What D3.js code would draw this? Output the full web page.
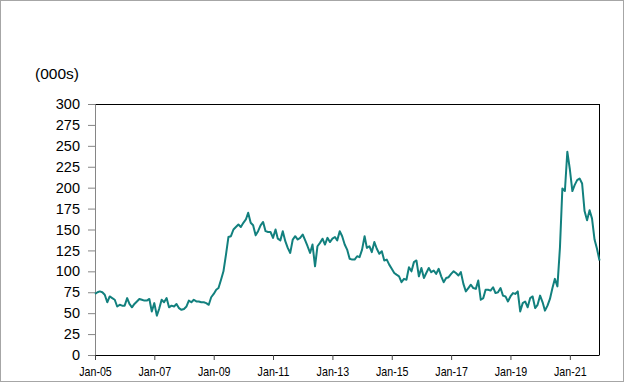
<!DOCTYPE html>
<html>
<head>
<meta charset="utf-8">
<script src="https://cdn.jsdelivr.net/npm/d3@7"></script>
<style>
  html, body { margin: 0; padding: 0; background: #fff; }
  svg { display: block; font-family: "Liberation Sans", Arial, sans-serif; }
</style>
</head>
<body>
<svg id="chart" width="624" height="382"></svg>
<script>
// Monthly values (thousands), Jan 2005 .. Jan 2022
const startMonth = "2005-01";
const values2005 = [73, 75, 76, 75, 72, 63, 70, 68, 66, 58, 60, 59];
const values2006 = [59, 68, 61, 57, 61, 64, 67, 66, 65, 65, 67, 52];
const values2007 = [62, 47, 55, 66, 63, 68, 57, 59, 58, 61, 56, 54];
const values2008 = [55, 58, 65, 63, 66, 64, 64, 63, 63, 62, 60, 69];
const values2009 = [73, 78, 80, 90, 100, 120, 141, 142, 150, 153, 156, 153];
const values2010 = [158, 162, 170, 158, 155, 143, 148, 155, 159, 148, 147, 147];
const values2011 = [140, 150, 139, 137, 148, 136, 128, 122, 138, 142, 138, 140];
const values2012 = [144, 137, 130, 122, 132, 106, 130, 134, 139, 132, 140, 135];
const values2013 = [139, 141, 137, 148, 142, 132, 126, 115, 114, 114, 118, 117];
const values2014 = [126, 142, 128, 130, 123, 135, 127, 121, 124, 113, 114, 108];
const values2015 = [103, 98, 96, 94, 87, 91, 90, 105, 100, 111, 113, 94];
const values2016 = [104, 92, 98, 104, 99, 101, 97, 103, 94, 87, 92, 93];
const values2017 = [97, 100, 98, 95, 99, 85, 76, 80, 84, 80, 79, 89];
const values2018 = [66, 68, 78, 78, 77, 81, 74, 75, 80, 71, 70, 64];
const values2019 = [70, 74, 73, 76, 52, 62, 64, 57, 68, 70, 56, 60];
const values2020 = [71, 63, 53, 59, 67, 80, 91, 82, 128, 199, 196, 243];
const values2021 = [222, 196, 203, 209, 211, 205, 172, 161, 173, 163, 138, 127];
const values2022 = [113];

const yTicks = [0, 25, 50, 75, 100, 125, 150, 175, 200, 225, 250, 275, 300];
const xTickYears = [2005, 2007, 2009, 2011, 2013, 2015, 2017, 2019, 2021];
const unitLabel = "(000s)";

const allValues = [].concat(values2005, values2006, values2007, values2008, values2009,
  values2010, values2011, values2012, values2013, values2014, values2015, values2016,
  values2017, values2018, values2019, values2020, values2021, values2022);
const data = allValues.map((v, i) => ({ date: new Date(2005, i, 1), value: v }));

const svg = d3.select("#chart");
const W = 624, H = 382;
const L = 95, R = 599.5, T = 104, B = 355;

// outer frame
svg.append("rect").attr("x", 0.5).attr("y", 0.5).attr("width", W - 1).attr("height", H - 1)
  .attr("fill", "#fff").attr("stroke", "#a6a6a6").attr("stroke-width", 1);

const x = d3.scaleTime().domain([new Date(2005, 0, 1), new Date(2022, 0, 1)]).range([L, R]);
const y = d3.scaleLinear().domain([0, 300]).range([B, T]);

// top and right border
svg.append("line").attr("x1", L).attr("x2", R).attr("y1", T + 0.5).attr("y2", T + 0.5)
  .attr("stroke", "#000").attr("stroke-width", 1);
svg.append("line").attr("x1", R).attr("x2", R).attr("y1", T).attr("y2", B)
  .attr("stroke", "#000").attr("stroke-width", 1);

// Y axis
const yAxis = d3.axisLeft(y).tickValues(yTicks).tickSize(7).tickPadding(8);
const gy = svg.append("g").attr("transform", `translate(${L},0)`).call(yAxis);
gy.select(".domain").attr("stroke", "#868686");
gy.selectAll(".tick line").attr("stroke", "#868686");
gy.selectAll(".tick text").attr("font-size", "14.5px").attr("fill", "#000")
  .attr("font-family", "'Liberation Sans', Arial, sans-serif");

// X axis
const xAxis = d3.axisBottom(x).tickValues(xTickYears.map(yy => new Date(yy, 0, 1)))
  .tickFormat(d3.timeFormat("Jan-%y")).tickSize(5).tickPadding(7);
const gx = svg.append("g").attr("transform", `translate(0,${B})`).call(xAxis);
gx.select(".domain").attr("stroke", "#000").attr("d", `M${L},0.5H${R}`);
gx.selectAll(".tick line").attr("stroke", "#404040");
gx.selectAll(".tick text").attr("font-size", "12px").attr("fill", "#000")
  .attr("font-family", "'Liberation Sans', Arial, sans-serif")
  .attr("transform", "scale(0.89,1)");

// unit label
svg.append("text").attr("x", 35).attr("y", 79).attr("font-size", "15.5px")
  .attr("fill", "#000").text(unitLabel);

// line
const line = d3.line().x(d => x(d.date)).y(d => y(d.value));
svg.append("path").datum(data).attr("d", line)
  .attr("fill", "none").attr("stroke", "#12807e").attr("stroke-width", 2)
  .attr("stroke-linejoin", "round");
</script>
</body>
</html>
